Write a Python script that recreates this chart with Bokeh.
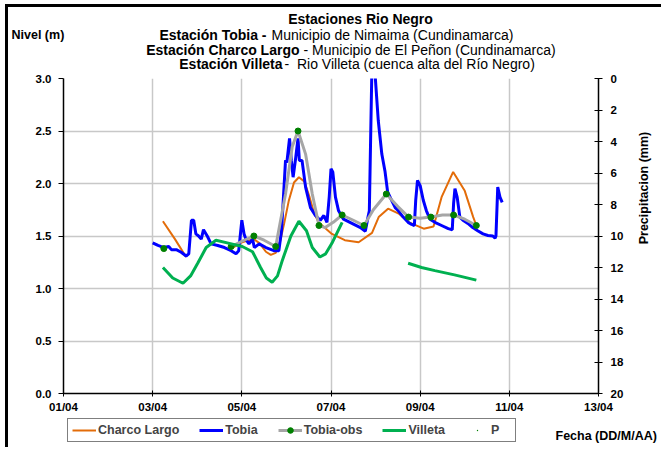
import math
from bokeh.plotting import figure
from bokeh.layouts import column
from bokeh.models import (Range1d, LinearAxis, FixedTicker, Legend, LegendItem)
from bokeh.core.properties import value
from bokeh.embed import file_html
from bokeh.resources import INLINE

nan = float("nan")

# ---------------- data ----------------
x_ticks = [1, 3, 5, 7, 9, 11, 13]
x_tick_labels = ["01/04", "03/04", "05/04", "07/04", "09/04", "11/04", "13/04"]
y_ticks = [0.0, 0.5, 1.0, 1.5, 2.0, 2.5, 3.0]
y_tick_labels = ["0.0", "0.5", "1.0", "1.5", "2.0", "2.5", "3.0"]
p_ticks = [0, 2, 4, 6, 8, 10, 12, 14, 16, 18, 20]

# day of April (fractional), level in m
charco_day = [3.23, 3.50, 3.75, nan, 4.76, 5.00, 5.27, 5.40, 5.54, 5.65, 5.76, 5.86,
              5.95, 6.05, 6.17, 6.28, 6.40, 6.52, 6.62, 6.72, 7.02, 7.31, 7.62, 7.92,
              8.07, 8.28, 8.53, 8.75, 9.08, 9.30, 9.48, 9.74, 10.00, 10.19, 10.26]
charco_lvl = [1.64, 1.47, 1.30, nan, 1.38, 1.44, 1.47, 1.43, 1.35, 1.32, 1.34, 1.45,
              1.62, 1.83, 2.01, 2.06, 2.02, 1.87, 1.72, 1.63, 1.52, 1.46, 1.44, 1.53,
              1.68, 1.76, 1.71, 1.63, 1.57, 1.59, 1.87, 2.11, 1.93, 1.68, 1.60]

tobia_day = [3.00, 3.12, 3.25, 3.36, 3.42, 3.53, 3.64, 3.75, 3.81, 3.87, 3.92, 3.97,
             4.03, 4.09, 4.14, 4.23, 4.31, 4.46, 4.61, 4.76, 4.87, 4.93, 5.00, 5.05,
             5.10, 5.16, 5.24, 5.28, 5.39, 5.54, 5.72, 5.83, 5.89, 5.92, 5.98, 6.01,
             6.07, 6.11, 6.15, 6.21, 6.26, 6.29, 6.35, 6.43, 6.54, 6.65, 6.76, 6.84,
             6.91, 6.96, 7.00, 7.04, 7.10, 7.17, 7.28, 7.47, 7.66, 7.77, 7.83, 7.86,
             7.93, 8.06, 8.14, 8.21, 8.27, 8.36, 8.44, 8.51, 8.62, 8.73, 8.81, 8.87,
             8.90, 8.94, 9.00, 9.07, 9.14, 9.22, 9.33, 9.48, 9.63, 9.72, 9.75, 9.78,
             9.83, 9.89, 9.96, 10.07, 10.18, 10.29, 10.41, 10.52, 10.63, 10.68, 10.70,
             10.74, 10.79, 10.84]
tobia_lvl = [1.435, 1.41, 1.39, 1.40, 1.37, 1.37, 1.345, 1.31, 1.33, 1.65, 1.65, 1.52,
             1.50, 1.47, 1.56, 1.495, 1.425, 1.41, 1.39, 1.36, 1.33, 1.36, 1.65, 1.52,
             1.46, 1.425, 1.47, 1.39, 1.425, 1.39, 1.36, 1.36, 1.55, 1.77, 2.22, 2.20,
             2.43, 2.22, 2.06, 2.25, 2.43, 2.22, 2.22, 1.965, 1.77, 1.695, 1.65, 1.695,
             1.63, 1.87, 2.14, 2.11, 1.87, 1.74, 1.66, 1.62, 1.58, 1.545, 1.68, 1.74,
             3.40, 2.60, 2.28, 2.12, 1.92, 1.84, 1.77, 1.74, 1.68, 1.63, 1.61, 1.60,
             1.84, 2.03, 1.98, 1.84, 1.74, 1.66, 1.63, 1.60, 1.57, 1.56, 1.81, 1.95,
             1.87, 1.68, 1.65, 1.62, 1.58, 1.55, 1.52, 1.505, 1.50, 1.48, 1.50,
             1.965, 1.87, 1.82]

# observed Tobia levels (markers)
obs_day = [3.25, 4.76, 5.27, 5.76, 6.26, 6.73, 7.25, 7.74, 8.24, 8.74, 9.24, 9.75, 10.26]
obs_lvl = [1.38, 1.40, 1.50, 1.40, 2.50, 1.60, 1.70, 1.60, 1.90, 1.68, 1.68, 1.70, 1.60]
obs_line_day = [4.76, 5.00, 5.27, 5.50, 5.76, 5.98, 6.13, 6.26, 6.43, 6.58, 6.73, 6.87,
                7.05, 7.25, 7.50, 7.74, 7.95, 8.24, 8.50, 8.74, 9.00, 9.24, 9.50, 9.75,
                10.00, 10.26]
obs_line_lvl = [1.40, 1.45, 1.50, 1.46, 1.40, 1.90, 2.35, 2.50, 2.28, 1.90, 1.60, 1.58,
                1.63, 1.70, 1.65, 1.60, 1.75, 1.90, 1.78, 1.68, 1.67, 1.68, 1.70, 1.70,
                1.66, 1.60]

villeta_day = [3.23, 3.45, 3.68, 3.85, 4.01, 4.20, 4.42, 4.72, 5.01, 5.24, 5.42, 5.55,
               5.68, 5.80, 5.91, 6.10, 6.28, 6.45, 6.58, 6.75, 6.88, 7.02, 7.25, nan,
               8.73, 9.03, 9.33, 9.77, 10.26]
villeta_lvl = [1.20, 1.10, 1.05, 1.12, 1.24, 1.39, 1.46, 1.43, 1.40, 1.35, 1.20, 1.10,
               1.06, 1.12, 1.27, 1.50, 1.64, 1.55, 1.39, 1.30, 1.33, 1.43, 1.63, nan,
               1.24, 1.20, 1.17, 1.13, 1.08]

precip_day = [nan]
precip_mm = [nan]

FONT = "Liberation Sans"
COL_CH, COL_TB, COL_OBS, COL_DOT, COL_VI = "#E36C09", "#0000FF", "#A6A6A6", "#008000", "#00B050"

# page offset of the figures (column placed at 5,4 with a 3px border)
OX, OY = 8, 7
W = 653


def strip(h):
    f = figure(width=W, height=h, x_range=Range1d(0, W), y_range=Range1d(h, 0),
               x_axis_type=None, y_axis_type=None,
               output_backend="svg", toolbar_location=None,
               min_border_left=0, min_border_right=0, min_border_top=0, min_border_bottom=0)
    f.grid.visible = False
    f.outline_line_color = None
    return f


# ---------------- top text strip ----------------
HT = 65
top = strip(HT)


def ttext(fig, px, py, txt, bold=True, size="14px", align="left", oy=OY):
    fig.text(x=[px - OX], y=[py - oy], text=[txt], text_font=value(FONT),
             text_font_style="bold" if bold else "normal", text_font_size=size,
             text_align=align, text_baseline="middle", text_color="black")


ttext(top, 360, 18, "Estaciones Rio Negro", align="center")
ttext(top, 266, 34, "Estación Tobia -", align="right")
ttext(top, 271, 34, "Municipio de Nimaima (Cundinamarca)", bold=False)
ttext(top, 299, 49, "Estación Charco Largo", align="right")
ttext(top, 303, 49, "- Municipio de El Peñon (Cundinamarca)", bold=False)
ttext(top, 282, 63, "Estación Villeta", align="right")
ttext(top, 284, 63, "-\u00a0 Rio Villeta (cuenca alta del Río Negro)", bold=False)
ttext(top, 11, 34, "Nivel (m)", size="12.5px")

# ---------------- main chart ----------------
MT = OY + HT                 # page y where main figure starts
FL, FR = 63 - OX, 601 - OX   # frame left/right in canvas px
FT, FB = 78 - MT, 393 - MT   # frame top/bottom in canvas px
MB = 22
HM = FB + MB

p = figure(width=W, height=HM, x_range=Range1d(1, 13), y_range=Range1d(0, 3),
           output_backend="svg", toolbar_location=None,
           min_border_left=FL, min_border_right=W - FR,
           min_border_top=FT, min_border_bottom=MB)
p.outline_line_color = None
p.background_fill_color = "white"
p.border_fill_color = "white"
p.extra_y_ranges = {"p": Range1d(20, 0)}

p.xgrid.ticker = FixedTicker(ticks=x_ticks)
p.ygrid.ticker = FixedTicker(ticks=y_ticks)
for g in (p.xgrid, p.ygrid):
    g.grid_line_color = "#C8C8C8"
    g.grid_line_width = 1.5

xa = p.xaxis[0]
xa.ticker = FixedTicker(ticks=x_ticks)
xa.major_label_overrides = {t: l for t, l in zip(x_ticks, x_tick_labels)}
xa.major_tick_in = 3
xa.major_tick_out = 3
xa.major_label_standoff = 4

ya = p.yaxis[0]
ya.ticker = FixedTicker(ticks=y_ticks)
ya.major_label_overrides = {t: l for t, l in zip(y_ticks, y_tick_labels)}
ya.major_tick_in = 0
ya.major_tick_out = 5
ya.major_label_standoff = 7

ra = LinearAxis(y_range_name="p", ticker=FixedTicker(ticks=p_ticks))
ra.major_tick_in = 4
ra.major_tick_out = 4
ra.major_label_standoff = 8
p.add_layout(ra, "right")

for ax in (xa, ya, ra):
    ax.minor_tick_line_color = None
    ax.axis_line_color = "black"
    ax.axis_line_width = 1.5
    ax.major_label_text_font = FONT
    ax.major_label_text_font_style = "bold"
    ax.major_label_text_font_size = "11.5px"
    ax.major_label_text_color = "black"
    ax.major_tick_line_color = "black"

# title of the precipitation axis, placed near its top like the reference
prec_lab_at = 2.55
ra2 = LinearAxis(ticker=FixedTicker(ticks=[prec_lab_at]))
ra2.major_label_overrides = {prec_lab_at: "Precipitacion (mm)"}
ra2.major_label_orientation = math.pi / 2
ra2.axis_line_color = None
ra2.major_tick_line_color = None
ra2.minor_tick_line_color = None
ra2.major_tick_in = 0
ra2.major_tick_out = 0
ra2.major_label_standoff = 18
ra2.major_label_text_font = FONT
ra2.major_label_text_font_style = "bold"
ra2.major_label_text_font_size = "12.5px"
ra2.major_label_text_color = "black"
p.add_layout(ra2, "right")

p.line(charco_day, charco_lvl, line_color=COL_CH, line_width=2)
p.line(tobia_day, tobia_lvl, line_color=COL_TB, line_width=3)
p.line(obs_line_day, obs_line_lvl, line_color=COL_OBS, line_width=3)
p.scatter(obs_day, obs_lvl, size=6, fill_color=COL_DOT, line_color=COL_DOT)
p.line(villeta_day, villeta_lvl, line_color=COL_VI, line_width=3)

# ---------------- bottom strip: legend + axis note ----------------
BT = MT + HM                 # page y where bottom strip starts
HB = 32
bot = strip(HB)

# legend swatches (no points of their own); P has no recorded values
l_ch = bot.line([nan], [nan], line_color=COL_CH, line_width=2)
l_tb = bot.line([nan], [nan], line_color=COL_TB, line_width=3)
l_obl = bot.line([nan], [nan], line_color=COL_OBS, line_width=3)
l_obd = bot.scatter([nan], [nan], size=6, fill_color=COL_DOT, line_color=COL_DOT)
l_vi = bot.line([nan], [nan], line_color=COL_VI, line_width=3)
l_p = bot.scatter(precip_day, precip_mm, marker="dot", size=3,
                  fill_color=COL_DOT, line_color=COL_DOT, line_width=2)

legend = Legend(items=[
    LegendItem(label="Charco Largo", renderers=[l_ch]),
    LegendItem(label="Tobia", renderers=[l_tb]),
    LegendItem(label="Tobia-obs", renderers=[l_obl, l_obd]),
    LegendItem(label="Villeta", renderers=[l_vi]),
    LegendItem(label="P", renderers=[l_p]),
], orientation="horizontal", location=(67 - OX, HB - (442 - BT)))
legend.border_line_color = "black"
legend.border_line_width = 1
legend.background_fill_color = "white"
legend.background_fill_alpha = 1
legend.label_text_font = FONT
legend.label_text_font_style = "bold"
legend.label_text_font_size = "12.5px"
legend.glyph_width = 24
legend.glyph_height = 14
legend.label_height = 14
legend.label_standoff = 2
legend.spacing = 20
legend.padding = 4
legend.margin = 0
bot.add_layout(legend, "center")

ttext(bot, 555, 435, "Fecha (DD/M/AA)", size="12.5px", oy=BT)

for f in (top, p, bot):
    try:
        f.frame_align = False
    except AttributeError:
        pass

layout = column(top, p, bot, spacing=0,
                styles={"margin-left": "5px", "margin-top": "4px",
                        "border-left": "3px solid black", "border-top": "3px solid black"})

open("out.html", "w").write(file_html(layout, INLINE))
